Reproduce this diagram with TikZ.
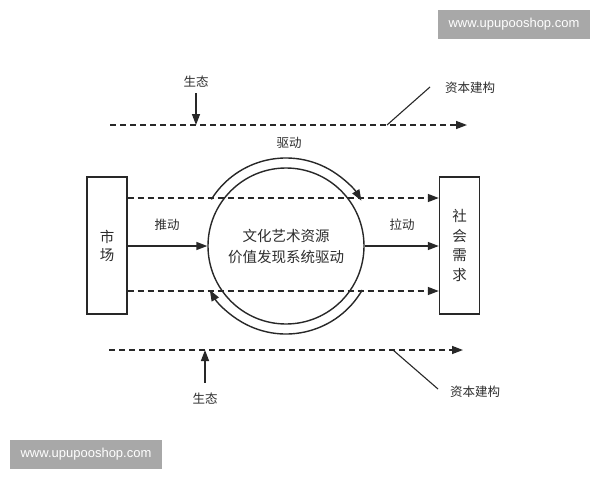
\documentclass[tikz,border=0pt]{standalone}
\usepackage{fontspec}
\setmainfont{Liberation Sans}
\newfontfamily\cjk{Noto Sans CJK SC}
\usetikzlibrary{arrows.meta}
\definecolor{ink}{RGB}{40,40,40}
\definecolor{textc}{RGB}{45,45,45}
\definecolor{wmgray}{RGB}{168,168,168}
\tikzset{
  box/.style={draw=ink, line width=1.4pt, minimum width=40pt, minimum height=137pt, inner sep=0pt, align=center, text=textc},
  lbl/.style={font=\cjk\fontsize{12.5}{14}\selectfont, text=textc, inner sep=1pt},
  dashline/.style={dash pattern=on 6pt off 4pt},
  tip/.style={-{Triangle[length=11pt,width=8pt]}},
  wm/.style={fill=wmgray, text=white, minimum width=152pt, minimum height=29pt, inner sep=0pt, font=\fontsize{13}{15}\selectfont}
}
\begin{document}
\begin{tikzpicture}[x=1pt,y=-1pt, line width=1.4pt, draw=ink]
\fill[white] (0,0) rectangle (600,480);
\useasboundingbox (0,0) rectangle (600,480);

% watermarks
\node[wm] (wm1) at (514,24.5) {www.upupooshop.com};
\node[wm] (wm2) at (86,454.5) {www.upupooshop.com};

% boxes and circle
\node[box, font=\cjk\fontsize{14.5}{18}\selectfont] (mkt) at (107,245.5) {市\\场};
\node[box, font=\cjk\fontsize{14.5}{19.7}\selectfont] (soc) at (459.5,245.5) {社\\会\\需\\求};
\coordinate (c) at (286,246);
\node[circle, draw=ink, line width=1.4pt, minimum size=156pt, inner sep=0pt, align=center, text=textc,
      font=\cjk\fontsize{14.5}{21}\selectfont] (sys) at (c) {文化艺术资源\\价值发现系统驱动};

% dashed lines between boxes
\draw[dashline, tip] ([yshift=47.5pt]mkt.east) -- ([yshift=47.5pt]soc.west);
\draw[dashline, tip] ([yshift=-45.5pt]mkt.east) -- ([yshift=-45.5pt]soc.west);

% solid arrows
\draw[tip] (mkt.east |- sys) -- (sys.west);
\draw[tip] (sys.east) -- (soc.west |- sys);
\node[lbl] (push) at (167,225) {推动};
\node[lbl] (pull) at (402,225) {拉动};

% arcs
\draw[tip] (c) ++(148:88pt) arc[start angle=148, end angle=31, radius=88pt];
\draw[tip] (c) ++(-30:88pt) arc[start angle=-30, end angle=-150, radius=88pt];
\node[lbl] (drive) at (289,143) {驱动};

% top dashed line
\coordinate (t1) at (110,125);
\coordinate (t2) at (467,125);
\draw[dashline, tip] (t1) -- (t2);
\node[lbl] (eco1) at (196,82) {生态};
\coordinate (e1) at (196,125);
\draw[tip] ([yshift=-4pt]eco1.south) -- (e1);
\node[lbl] (cap1) at (470,88) {资本建构};
\coordinate (k1) at (430,87);
\coordinate (k2) at (387,125);
\draw[line width=1.1pt] (k1) -- (k2);

% bottom dashed line
\coordinate (b1) at (109,350);
\coordinate (b2) at (463,350);
\draw[dashline, tip] (b1) -- (b2);
\node[lbl] (eco2) at (205,399) {生态};
\coordinate (e2) at (205,350);
\draw[tip] ([yshift=9pt]eco2.north) -- (e2);
\node[lbl] (cap2) at (475,392) {资本建构};
\coordinate (k3) at (393,350);
\coordinate (k4) at (438,389);
\draw[line width=1.1pt] (k3) -- (k4);
\end{tikzpicture}
\end{document}
